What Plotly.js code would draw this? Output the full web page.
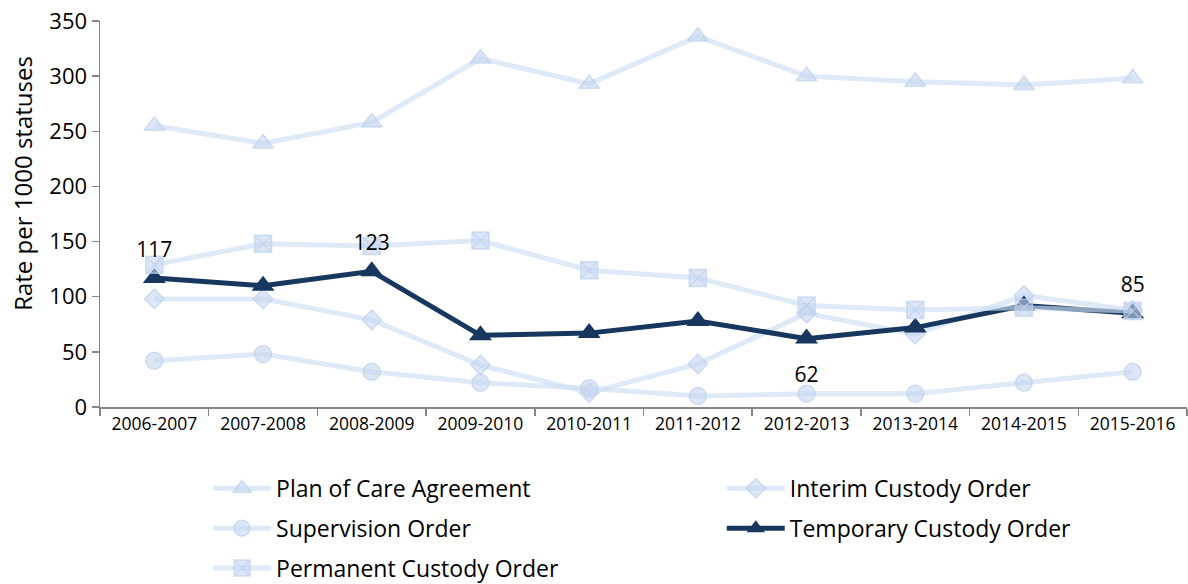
<!DOCTYPE html>
<html>
<head>
<meta charset="utf-8">
<script src="https://cdn.plot.ly/plotly-3.0.1.min.js"></script>
<style>html,body{margin:0;padding:0;background:#fff;}#chart{width:1188px;height:584px;}</style>
</head>
<body>
<div id="chart"></div>
<script>
const years = ["2006-2007","2007-2008","2008-2009","2009-2010","2010-2011","2011-2012","2012-2013","2013-2014","2014-2015","2015-2016"];
const planOfCare = [255, 239, 258, 316, 293, 336, 300, 295, 292, 298];
const interimCustody = [98, 98, 79, 38, 13, 39, 85, 66, 101, 88];
const supervision = [42, 48, 32, 22, 17, 10, 12, 12, 22, 32];
const temporaryCustody = [117, 110, 123, 65, 67, 78, 62, 72, 92, 85];
const permanentCustody = [129, 148, 146, 151, 124, 117, 92, 88, 90, 87];
const temporaryLabels = ["117", "", "123", "", "", "", "62", "", "", "85"];
const temporaryLabelPos = ["top center","top center","top center","top center","top center","top center","bottom center","top center","top center","top center"];
const yTitle = "Rate per 1000 statuses";

const FONT = "'Open Sans', sans-serif";
const light = "rgba(205,222,243,0.65)";
const lightMarker = "rgba(196,214,240,0.6)";
const lightEdge = "rgba(190,210,238,0.7)";
const dark = "#17375e";

function lightTrace(name, y, symbol, size, legend, group) {
  return {
    type: "scatter", mode: "lines+markers", name: name, x: years, y: y,
    legend: legend, legendgroup: group,
    line: {color: light, width: 5},
    marker: {symbol: symbol, size: size, color: lightMarker, line: {color: lightEdge, width: 1.5}},
    hoverinfo: "x+y+name"
  };
}

// label offset: top labels sit a little closer to the point than the one placed below
const labelGap = temporaryLabelPos.map(p => p === "bottom center" ? 42 : 24);

const traces = [
  lightTrace("Plan of Care Agreement", planOfCare, "triangle-up", 18, "legend", "a"),
  lightTrace("Interim Custody Order", interimCustody, "diamond", 15, "legend2", "d"),
  lightTrace("Supervision Order", supervision, "circle", 17, "legend", "b"),
  {
    type: "scatter", mode: "lines+markers", name: "Temporary Custody Order",
    x: years, y: temporaryCustody, legend: "legend2", legendgroup: "e",
    line: {color: dark, width: 5},
    marker: {symbol: "triangle-up", size: 20, color: dark}
  },
  lightTrace("Permanent Custody Order", permanentCustody, "square-x", 17, "legend", "c"),
  {
    type: "scatter", mode: "markers+text", name: "labels", showlegend: false,
    x: years, y: temporaryCustody,
    text: temporaryLabels, textposition: temporaryLabelPos,
    textfont: {family: FONT, size: 21, color: "#000"},
    marker: {size: labelGap, opacity: 0}, cliponaxis: false
  }
];

const legendCommon = {
  orientation: "v", xanchor: "left", yanchor: "top",
  font: {family: FONT, size: 23, color: "#000"},
  tracegroupgap: 7, itemwidth: 58, bgcolor: "rgba(0,0,0,0)", borderwidth: 0
};

const layout = {
  width: 1188, height: 584,
  margin: {l: 100, r: 1, t: 21, b: 177, autoexpand: false},
  paper_bgcolor: "#fff", plot_bgcolor: "#fff",
  font: {family: FONT, color: "#000"},
  showlegend: true,
  xaxis: {
    type: "category", range: [-0.5, 9.5],
    showgrid: false, zeroline: false,
    showline: true, linecolor: "#868686", linewidth: 1.5,
    ticks: "outside", ticklen: 7, tickcolor: "#868686", tickwidth: 1.5,
    tickson: "boundaries",
    tickfont: {family: FONT, size: 17.5, color: "#000"}
  },
  yaxis: {
    range: [0, 350], dtick: 50,
    showgrid: false, zeroline: false,
    showline: true, linecolor: "#868686", linewidth: 1.5,
    ticks: "outside", ticklen: 7, tickcolor: "#868686", tickwidth: 1.5,
    tickfont: {family: FONT, size: 22, color: "#000"}
  },
  annotations: [{
    text: yTitle, textangle: -90, showarrow: false,
    xref: "paper", yref: "paper", x: -0.072, y: 0.58, xanchor: "center", yanchor: "middle",
    font: {family: FONT, size: 24, color: "#000"}
  }],
  legend: Object.assign({x: 0.0994, y: -0.155}, legendCommon),
  legend2: Object.assign({x: 0.572, y: -0.155}, legendCommon)
};

Plotly.newPlot("chart", traces, layout, {displayModeBar: false, staticPlot: true});
</script>
</body>
</html>
